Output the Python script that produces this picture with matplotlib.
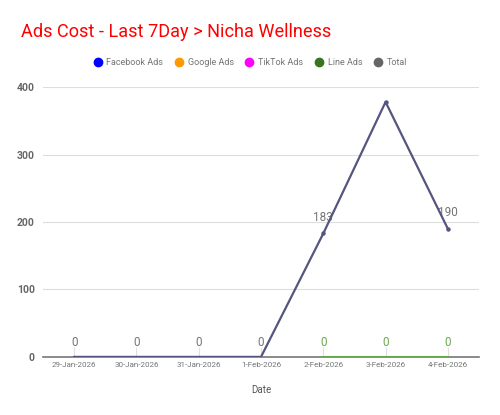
import matplotlib
matplotlib.use("Agg")
import matplotlib.pyplot as plt
from matplotlib.lines import Line2D

plt.rcParams['font.family'] = ['Roboto', 'DejaVu Sans']

dates = ["29-Jan-2026", "30-Jan-2026", "31-Jan-2026", "1-Feb-2026",
         "2-Feb-2026", "3-Feb-2026", "4-Feb-2026"]
total = [0, 0, 0, 0, 183, 378, 190]
line_ads_idx = [4, 5, 6]
line_ads = [0, 0, 0]
series_names = ["Facebook Ads", "Google Ads", "TikTok Ads", "Line Ads", "Total"]
series_colors = ["#0000ff", "#ff9900", "#ff00ff", "#38761d", "#666666"]
yticks = [0, 100, 200, 300, 400]

fig = plt.figure(figsize=(5.0, 4.15), dpi=100)
ax = fig.add_axes([0.086, 0.14, 0.872, 0.65])

x = list(range(len(dates)))
ax.plot(line_ads_idx, line_ads, color="#6aa84f", lw=1.5, zorder=3)
ax.plot(x, total, color="#55557f", lw=1.6, zorder=4)
ax.plot(x[4:], total[4:], color="#55557f", lw=0, zorder=4, marker='o', markersize=2.2)

# labels
for i, v in enumerate(total):
    if i in line_ads_idx:
        continue
    ax.annotate(str(v), (i, v), xytext=(0, 5.5), textcoords='offset points',
                ha='center', va='bottom', fontsize=8.5, color="#757575")
for i in [4, 6]:
    ax.annotate(str(total[i]), (i, total[i]), xytext=(0, 7), textcoords='offset points',
                ha='center', va='bottom', fontsize=8.5, color="#757575")
for i, v in zip(line_ads_idx, line_ads):
    ax.annotate(str(v), (i, v), xytext=(0, 5.5), textcoords='offset points',
                ha='center', va='bottom', fontsize=8.5, color="#6aa84f")

ax.set_xlim(-0.5, 6.5)
ax.set_ylim(0, 400)
ax.set_yticks(yticks)
ax.set_xticks(x)
ax.set_xticklabels(dates, fontsize=5.8, color="#757575")
ax.set_yticklabels([str(t) for t in yticks], fontsize=7.5, color="#666666", fontweight='bold')
ax.grid(axis='y', color="#dddddd", lw=0.8)
ax.set_axisbelow(True)
for s in ['top', 'right', 'left']:
    ax.spines[s].set_visible(False)
ax.spines['bottom'].set_color("#777777")
ax.spines['bottom'].set_linewidth(1.2)
ax.tick_params(axis='y', length=0, pad=6)
ax.tick_params(axis='x', direction='in', length=7, color="#e0e0e0", pad=4)
ax.set_xlabel("Date", fontsize=7, color="#555555", labelpad=12)

fig.text(0.042, 0.923, "Ads Cost - Last 7Day > Nicha Wellness", fontsize=13.1,
         color="#ff0000", ha='left', va='center')

handles = [Line2D([0], [0], marker='o', color='w', markerfacecolor=c, markeredgecolor=c,
                  markersize=6) for c in series_colors]
fig.legend(handles, series_names, loc='center', bbox_to_anchor=(0.5, 0.85), ncol=5,
           frameon=False, fontsize=6.5, labelcolor="#757575", handletextpad=0.45,
           columnspacing=1.25, handlelength=1.0)

fig.savefig("out.png", dpi=100)
